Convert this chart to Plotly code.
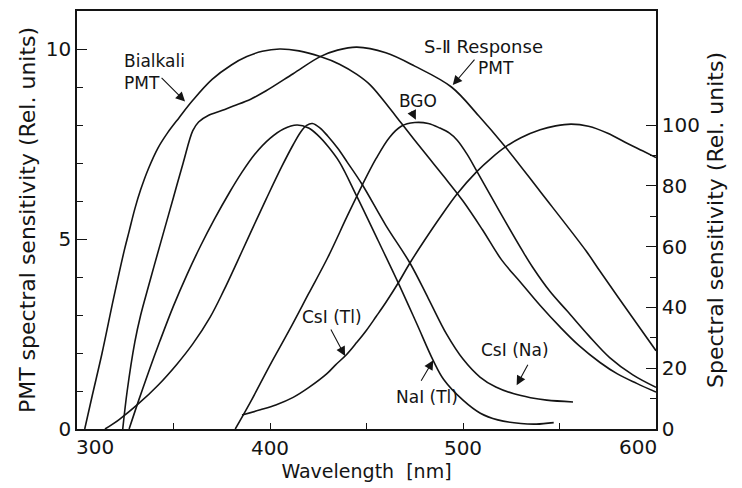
import plotly.graph_objects as go

# ---------------- data ----------------
# PMT responses (left axis, rel. units 0-10)
bialkali_wl = [304, 308, 313, 319, 324.5, 327, 330, 333, 337, 342, 347, 353, 360, 370, 380, 388, 396, 405, 415, 426, 436, 445, 452, 462, 468, 480, 490, 500, 510, 520, 530, 540, 550, 560, 571, 580, 590, 600]
bialkali_y = [0, 0.9, 2.0, 3.45, 4.7, 5.2, 5.8, 6.3, 6.85, 7.4, 7.8, 8.2, 8.65, 9.2, 9.58, 9.8, 9.94, 10.0, 9.95, 9.8, 9.6, 9.33, 9.05, 8.44, 8.05, 7.28, 6.65, 6.0, 5.25, 4.45, 3.85, 3.25, 2.7, 2.2, 1.75, 1.45, 1.2, 0.97]

s2_wl = [323.7, 326, 330, 333, 337, 340, 345, 350, 355, 360, 363, 368, 375, 381, 390, 398, 412, 426, 435, 445, 460, 475, 494, 508, 522, 540, 564, 571, 588, 600]
s2_y = [0, 1.0, 2.3, 3.0, 3.75, 4.3, 5.2, 6.1, 7.0, 7.85, 8.08, 8.25, 8.38, 8.5, 8.68, 8.9, 9.35, 9.8, 9.97, 10.05, 9.9, 9.55, 9.0, 8.25, 7.42, 6.25, 4.67, 4.15, 2.92, 2.06]

# Scintillator emission (right axis, rel. units 0-100)
nai_wl = [327, 332, 337, 343, 350, 357, 364, 371, 379, 385, 392, 400, 407, 414, 420, 425, 430, 436, 445, 456, 466.5, 476, 484.6, 490, 500, 509, 518, 530, 538, 547]
nai_y = [0, 9.5, 18.6, 29.0, 40.5, 50.8, 60.2, 68.8, 77.8, 84.0, 90.3, 95.6, 98.7, 100, 99, 96.5, 93, 87.8, 76.5, 62, 48, 34.7, 22.5, 16.3, 9.5, 5.2, 3.0, 1.8, 1.6, 2.1]

csina_wl = [314.5, 322, 332, 342, 352, 360, 369, 376, 383, 390, 398, 406, 412, 416, 419, 422, 426, 430, 435, 440, 447.7, 460, 472.5, 482, 491.5, 500, 508.8, 517, 526, 535, 543.4, 557]
csina_y = [0, 3.2, 8.4, 14.4, 21.5, 28.0, 36.8, 45.5, 55.0, 64.7, 75.6, 86.2, 93.5, 97.8, 99.9, 100.5, 99, 96.3, 92.4, 87.8, 80.5, 67, 54.6, 43, 31.2, 23, 17.1, 13.8, 11.65, 10.3, 9.5, 8.9]

bgo_wl = [382, 390, 400, 410, 420, 430, 440, 448, 455, 462, 468, 475, 482, 488, 493, 497, 502, 507, 519, 531, 536, 545, 554, 565, 576, 588, 600]
bgo_y = [0, 9, 21, 32.5, 44.5, 56.5, 70, 80.5, 89, 96, 99.6, 100.8, 100.5, 99, 97.3, 95, 90.5, 85, 71.5, 58.4, 53.3, 45.3, 38.8, 30.8, 23.5, 17.8, 13.7]

csitl_wl = [385.5, 395, 403, 412, 420, 429.5, 434, 439.7, 445, 450, 455, 460, 466.5, 472.5, 480, 488, 497, 507, 515, 522, 530, 540, 548, 556, 565, 575, 585, 593, 600]
csitl_y = [4.6, 6.3, 7.9, 10.4, 13.6, 18.2, 21.1, 24.5, 28.5, 32.5, 37, 41.6, 48.1, 54.6, 62, 69.5, 77.4, 84.6, 89.3, 92.8, 95.8, 98.4, 99.7, 100.3, 99.6, 97.3, 94, 91.5, 89.3]

x_ticks = [300, 400, 500, 600]
x_ticklabels = ["300", "400", "500", "600"]
x_minor = [350, 450, 550]
left_ticks = [0, 5, 10]
left_minor = [1, 2, 3, 4, 6, 7, 8, 9]
right_ticks = [0, 20, 40, 60, 80, 100]
right_minor = [10, 30, 50, 70, 90]

# ---------------- figure ----------------
FONT = "DejaVu Sans"
INK = "#141414"

fig = go.Figure()
series = [
    (bialkali_wl, bialkali_y, "y"),
    (s2_wl, s2_y, "y"),
    (nai_wl, nai_y, "y2"),
    (csina_wl, csina_y, "y2"),
    (bgo_wl, bgo_y, "y2"),
    (csitl_wl, csitl_y, "y2"),
]
for wl, val, ax in series:
    fig.add_trace(go.Scatter(
        x=wl, y=val, yaxis=ax, mode="lines",
        line=dict(color=INK, width=1.6, shape="spline", smoothing=1.0),
        showlegend=False, hoverinfo="skip"))

labels = [
    ("Bialkali<br>PMT", 323.3, 9.40, "left", 17),
    ("S-Ⅱ Response", 510.4, 10.06, "center", 18),
    ("PMT", 517.1, 9.51, "center", 17),
    ("BGO", 476.9, 8.64, "center", 17),
    ("CsI (Tl)", 432.0, 2.94, "center", 17),
    ("NaI (Tl)", 481.2, 0.85, "center", 17),
    ("CsI (Na)", 526.9, 2.07, "center", 17),
]
for txt, x, y, anc, sz in labels:
    fig.add_annotation(x=x, y=y, xref="x", yref="y", text=txt, showarrow=False,
                       xanchor=anc, yanchor="middle", align="left",
                       font=dict(family=FONT, size=sz, color=INK))

arrows = [  # tip (data), tail offset (px)
    (356.0, 8.62, -25, -25),
    (494.7, 9.05, 23, -27),
    (475.6, 8.14, -5, -10),
    (438.9, 1.92, -15, -28),
    (484.6, 1.81, -13, 22),
    (527.8, 1.15, 12, -22),
]
for x, y, ax, ay in arrows:
    fig.add_annotation(x=x, y=y, xref="x", yref="y", text="", showarrow=True,
                       ax=ax, ay=ay, arrowhead=2, arrowsize=1.7, arrowwidth=1.1,
                       arrowcolor=INK)

# end tick labels of the x axis sit inside the frame, as in the reference
main_text = [t if v not in (x_ticks[0], x_ticks[-1]) else "" for v, t in zip(x_ticks, x_ticklabels)]
for v, t, shift in [(x_ticks[0], x_ticklabels[0], 18), (x_ticks[-1], x_ticklabels[-1], -18)]:
    fig.add_annotation(x=v, y=0, xref="x", yref="y", text=t, showarrow=False,
                       xanchor="center", yanchor="middle", xshift=shift, yshift=-18,
                       font=dict(family=FONT, size=20, color=INK))

axis_common = dict(showgrid=False, zeroline=False, showline=True, linecolor=INK,
                   linewidth=1.5, ticks="inside", tickcolor=INK, tickwidth=1.3,
                   tickfont=dict(family=FONT, size=20, color=INK))

fig.update_layout(
    width=742, height=488,
    margin=dict(l=77, r=86, t=9, b=59),
    paper_bgcolor="white", plot_bgcolor="white",
    xaxis=dict(range=[300, 600], tickmode="array", tickvals=x_ticks, ticktext=main_text,
               ticklen=6, mirror=True,
               minor=dict(tickmode="array", tickvals=x_minor, ticks="inside",
                          ticklen=6, tickcolor=INK),
               title=dict(text="Wavelength  [nm]", standoff=6,
                          font=dict(family=FONT, size=19, color=INK)),
               **axis_common),
    yaxis=dict(range=[0, 11], tickmode="array", tickvals=left_ticks, ticklen=10,
               mirror=True,
               minor=dict(tickmode="array", tickvals=left_minor, ticks="inside",
                          ticklen=6, tickcolor=INK),
               title=dict(text="PMT spectral sensitivity (Rel. units)", standoff=4,
                          font=dict(family=FONT, size=22, color=INK)),
               **axis_common),
    yaxis2=dict(range=[0, 137.5], overlaying="y", side="right", anchor="x",
                tickmode="array", tickvals=right_ticks, ticklen=10,
                minor=dict(tickmode="array", tickvals=right_minor, ticks="inside",
                           ticklen=6, tickcolor=INK),
                title=dict(text="Spectral sensitivity (Rel. units)", standoff=9,
                           font=dict(family=FONT, size=22, color=INK)),
                **axis_common),
)

fig.write_html("out.html")
